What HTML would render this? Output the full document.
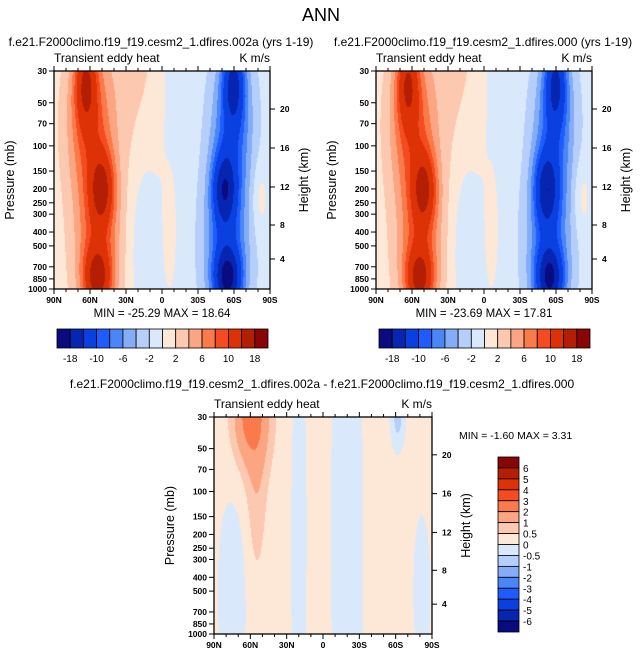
<!DOCTYPE html>
<html><head><meta charset="utf-8">
<style>
body{margin:0;background:#fff;width:643px;height:658px;overflow:hidden;position:relative;font-family:"Liberation Sans",Arial,sans-serif}
canvas{position:absolute}
svg{position:absolute;left:0;top:0}
text{font-family:"Liberation Sans",Arial,sans-serif;fill:#000}
</style></head>
<body>
<canvas id="c1" width="216" height="218" style="left:54px;top:71px"></canvas>
<canvas id="c2" width="216" height="218" style="left:376px;top:71px"></canvas>
<canvas id="c3" width="218" height="217" style="left:214px;top:417px"></canvas>
<svg id="ov" width="643" height="658"></svg>
<script>
// ---- data ----
const levelsMain = [-18,-14,-10,-8,-6,-4,-2,0,2,4,6,8,10,14,18];
const levelsDiff = [-6,-5,-4,-3,-2,-1,-0.5,0,0.5,1,2,3,4,5,6];
const colors = ['#0b0b80','#0625b0','#0a40e0','#1e5cff','#4a86f5','#85acf7','#b6cffa','#d9e8fb','#fde8d8','#fcc9b0','#fba583','#fb7a4a','#f44c20','#dc3205','#b41e05','#8a0505'];
const pTicks = [30,50,70,100,150,200,250,300,400,500,700,850,1000];
const hTicks = [20,16,12,8,4];
const hTickY = [38,77,116,154,188];
const latLabels = ['90N','60N','30N','0','30S','60S','90S'];
// field blobs: latitude, pressure (mb), amplitude, lat width, logp width
const aLat  = [64, 50, 54, 61, 54, 30, 13, -6, -82, -60, -52, -55, -59, -54];
const aPres = [35, 200, 850, 70, 500, 30, 500, 400, 230, 35, 200, 850, 70, 500];
const aAmp  = [9, 9, 10, 7, 7, 1.5, -3.0, 2.4, 2.2, -10, -10, -13, -7, -7.5];
const aSx   = [6.5, 7, 8, 13, 13, 22, 10, 4.5, 5, 6.5, 7, 8, 12, 13];
const aSt   = [0.14, 0.12, 0.1, 0.25, 0.28, 0.4, 0.3, 0.22, 0.12, 0.14, 0.12, 0.1, 0.25, 0.28];
const bLat  = [60, 59, 55, -62, -20, 20, 75, -82, 40];
const bPres = [30, 30, 100, 30, 200, 200, 500, 500, 400];
const bAmp  = [1.4, 1.0, 0.6, -0.9, -0.5, -0.45, -0.5, -0.4, -0.2];
const bSx   = [8, 12, 6, 4, 10, 5, 9, 6, 6];
const bSt   = [0.12, 0.2, 0.3, 0.1, 1.0, 0.8, 0.35, 0.3, 0.2];
const diffBase = 0.2;

const LT = Math.log(1000/30);
const tOf = p => Math.log(p/30)/LT;
function field(lat,t,L,P,A,SX,ST,base){
  let v = base(lat);
  for(let i=0;i<L.length;i++){
    const dx=(lat-L[i])/SX[i], dt=(t-tOf(P[i]))/ST[i];
    v += A[i]*Math.exp(-0.5*(dx*dx+dt*dt));
  }
  return v;
}
function bin(v,lv){let k=0;while(k<lv.length&&v>=lv[k])k++;return k;}
function hex(h){return [parseInt(h.substr(1,2),16),parseInt(h.substr(3,2),16),parseInt(h.substr(5,2),16)];}
const rgb = colors.map(hex);
function paint(id,L,P,A,SX,ST,base,lv,scale){
  const c=document.getElementById(id),ctx=c.getContext('2d'),W=c.width,H=c.height;
  const img=ctx.createImageData(W,H);
  for(let y=0;y<H;y++)for(let x=0;x<W;x++){
    const lat=90-180*x/(W-1),t=y/(H-1);
    const v=field(lat,t,L,P,A,SX,ST,base)*scale;
    const col=rgb[bin(v,lv)];const o=(y*W+x)*4;
    img.data[o]=col[0];img.data[o+1]=col[1];img.data[o+2]=col[2];img.data[o+3]=255;
  }
  ctx.putImageData(img,0,0);
}
const baseMain = lat=>1.0*Math.tanh(lat/5);
paint('c1',aLat,aPres,aAmp,aSx,aSt,baseMain,levelsMain,1.0);
paint('c2',aLat,aPres,aAmp,aSx,aSt,baseMain,levelsMain,0.96);
paint('c3',bLat,bPres,bAmp,bSx,bSt,()=>diffBase,levelsDiff,1.0);

// ---- overlay ----
const NS='http://www.w3.org/2000/svg',ov=document.getElementById('ov');
function el(tag,at,txt){const e=document.createElementNS(NS,tag);for(const k in at)e.setAttribute(k,at[k]);if(txt!==undefined)e.textContent=txt;ov.appendChild(e);return e;}
function txt(x,y,s,size,anchor,name,extra){const e=el('text',Object.assign({x:x,y:y,'font-size':size,'text-anchor':anchor||'start'},extra||{}),s);


return e;}
function axes(ox,oy,W,H,tag){
  const r=el('rect',{x:ox,y:oy,width:W,height:H,fill:'none',stroke:'#000','stroke-width':1.3});
  
  
  pTicks.forEach(p=>{const y=oy+tOf(p)*H;
    el('line',{x1:ox-5,x2:ox,y1:y,y2:y,stroke:'#000'});
    txt(ox-7,y+3,String(p),8.5,'end',tag+'-pressure-tick',{'font-weight':'bold'});});
  hTicks.forEach((h,i)=>{const y=oy+hTickY[i]*H/218;
    el('line',{x1:ox+W,x2:ox+W+5,y1:y,y2:y,stroke:'#000'});
    txt(ox+W+10,y+3,String(h),8.5,'start',tag+'-height-tick',{'font-weight':'bold'});});
  for(let k=0;k<=18;k++){const x=ox+W*k/18,len=(k%3===0)?5:3;
    el('line',{x1:x,x2:x,y1:oy+H,y2:oy+H+len,stroke:'#000'});
    el('line',{x1:x,x2:x,y1:oy,y2:oy-len,stroke:'#000'});}
  latLabels.forEach((s,i)=>txt(ox+W*i/6,oy+H+14,s,8.5,'middle',tag+'-lat-tick',{'font-weight':'bold'}));
  txt(ox,oy-9,'Transient eddy heat',12,'start',tag+'-var-title');
  txt(ox+W,oy-9,'K m/s',12,'end',tag+'-units');
  txt(0,0,'Pressure (mb)',12.5,'middle',tag+'-y-axis-title',{transform:`translate(${ox-40},${oy+H/2}) rotate(-90)`});
  txt(0,0,'Height (km)',12.5,'middle',tag+'-y2-axis-title',{transform:`translate(${ox+W+38},${oy+H/2}) rotate(-90)`});
}
txt(321,21,'ANN',18,'middle','main-title');
txt(161,46,'f.e21.F2000climo.f19_f19.cesm2_1.dfires.002a (yrs 1-19)',12,'middle','panel1-title');
txt(483,46,'f.e21.F2000climo.f19_f19.cesm2_1.dfires.000 (yrs 1-19)',12,'middle','panel2-title');
txt(322,388,'f.e21.F2000climo.f19_f19.cesm2_1.dfires.002a - f.e21.F2000climo.f19_f19.cesm2_1.dfires.000',12,'middle','diff-title');
axes(54,71,216,218,'panel1');
axes(376,71,216,218,'panel2');
axes(214,417,218,217,'diff');
txt(162,317,'MIN = -25.29  MAX =  18.64',11.5,'middle','panel1-minmax');
txt(484,317,'MIN = -23.69  MAX =  17.81',11.5,'middle','panel2-minmax');
txt(459,439,'MIN =  -1.60  MAX =   3.31',10.5,'start','diff-minmax');
function hbar(ox,oy,W,H,tag){
  const bw=W/16;
  colors.forEach((c,i)=>{const r=el('rect',{x:ox+i*bw,y:oy,width:bw,height:H,fill:c,stroke:'#000','stroke-width':0.8});
    
    });
  levelsMain.forEach((v,i)=>{if(i%2===0)txt(ox+(i+1)*bw,oy+H+14,String(v),10,'middle',tag+'-label');});
}
hbar(57,329,211,19,'colorbar1');
hbar(379,329,211,19,'colorbar2');
(function(){const ox=498,oy=457,W=21,H=175,bh=H/16;
  colors.slice().reverse().forEach((c,i)=>{const r=el('rect',{x:ox,y:oy+i*bh,width:W,height:bh,fill:c,stroke:'#000','stroke-width':0.8});
    
    });
  levelsDiff.slice().reverse().forEach((v,i)=>txt(ox+W+4,oy+(i+1)*bh+4,String(v),10,'start','diff-colorbar-label'));
})();
</script>
</body></html>
